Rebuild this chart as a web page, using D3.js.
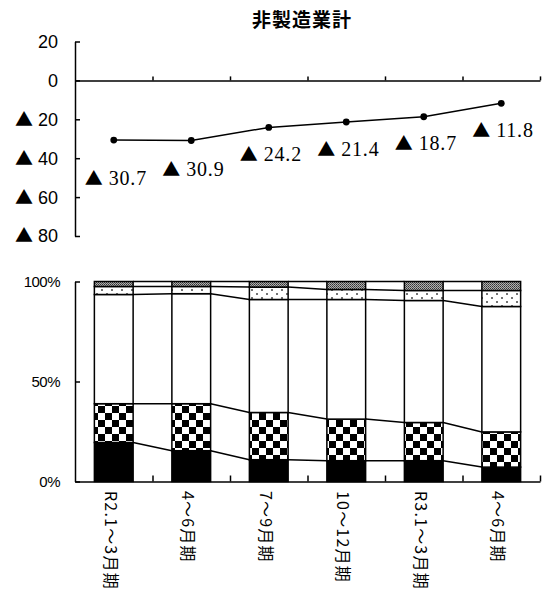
<!DOCTYPE html>
<html><head><meta charset="utf-8">
<script src="https://cdn.jsdelivr.net/npm/d3@7"></script>
<style>
html,body{margin:0;padding:0;background:#fff;}
svg{display:block;}
</style></head>
<body>
<svg id="c" width="545" height="604"></svg>
<script>
// ---- data ----
const title = "非製造業計";
const categories = ["R2.1～3月期","4～6月期","7～9月期","10～12月期","R3.1～3月期","4～6月期"];
const diValues = [-30.7,-30.9,-24.2,-21.4,-18.7,-11.8];
const topTicks = [20,0,-20,-40,-60,-80];
const bottomTicks = [0,50,100];
const seriesKeys = ["black","checker","white","dots","gray"];
const shareBlack   = [19.5,15.4,10.9,10.4,10.4,7.2];
const shareChecker = [19.4,23.5,23.6,20.8,19.1,17.6];
const shareWhite   = [54.6,55.0,56.5,59.8,61.0,62.7];
const shareDots    = [4.0,3.6,6.2,5.0,5.0,8.0];
const shareGray    = [2.5,2.5,2.8,4.0,4.5,4.5];

// ---- layout ----
const svg = d3.select("#c");
const left = 75, right = 540;
const labelDy = [39,30,28,28,28,28];

const rows = categories.map((c,i)=>({i, black:shareBlack[i], checker:shareChecker[i], white:shareWhite[i], dots:shareDots[i], gray:shareGray[i]}));

const x = d3.scaleBand().domain(d3.range(categories.length)).range([left,right]).paddingInner(0.5).paddingOuter(0.25);
const xb = d3.scaleLinear().domain([0,categories.length]).range([left,right]);
const bw = x.bandwidth();
const cx = i => x(i) + bw/2;

// patterns
const defs = svg.append("defs");
const pChk = defs.append("pattern").attr("id","chk").attr("patternUnits","userSpaceOnUse").attr("width",14).attr("height",14);
pChk.append("rect").attr("width",14).attr("height",14).attr("fill","#fff");
pChk.append("rect").attr("width",7).attr("height",7).attr("fill","#000");
pChk.append("rect").attr("x",7).attr("y",7).attr("width",7).attr("height",7).attr("fill","#000");
const pDot = defs.append("pattern").attr("id","dot").attr("patternUnits","userSpaceOnUse").attr("width",10).attr("height",8);
pDot.append("rect").attr("width",10).attr("height",8).attr("fill","#fff");
pDot.append("circle").attr("cx",2).attr("cy",2).attr("r",1).attr("fill","#444");
pDot.append("circle").attr("cx",7).attr("cy",6).attr("r",1).attr("fill","#444");
const pGray = defs.append("pattern").attr("id","gry").attr("patternUnits","userSpaceOnUse").attr("width",2).attr("height",2);
pGray.append("rect").attr("width",2).attr("height",2).attr("fill","#b0b0b0");
pGray.append("rect").attr("width",1).attr("height",1).attr("fill","#333");
pGray.append("rect").attr("x",1).attr("y",1).attr("width",1).attr("height",1).attr("fill","#555");
const fills = {black:"#000", checker:"url(#chk)", white:"#fff", dots:"url(#dot)", gray:"url(#gry)"};

// title
svg.append("text").attr("x",302).attr("y",27).attr("text-anchor","middle")
  .attr("font-family","'Noto Sans CJK JP', sans-serif").attr("font-size",19).attr("font-weight","bold")
  .attr("letter-spacing",1)
  .text(title);

// ---- top chart ----
const yT = d3.scaleLinear().domain([-80,20]).range([236,41.5]);
const gTA = svg.append("g").attr("transform",`translate(${left},0)`)
  .call(d3.axisLeft(yT).tickValues(topTicks).tickSize(-5).tickSizeOuter(0).tickFormat(""));
gTA.selectAll("path,line").attr("stroke","#000").attr("stroke-width",1.5);
const gTX = svg.append("g").attr("transform",`translate(0,${yT(0)})`)
  .call(d3.axisBottom(xb).tickValues(d3.range(1,categories.length+1)).tickSize(-4).tickSizeOuter(0).tickFormat(""));
gTX.selectAll("path,line").attr("stroke","#000").attr("stroke-width",1.5);

// top tick labels
const tl = svg.append("g").selectAll("text").data(topTicks).join("text")
  .attr("x",58).attr("y",d=>yT(d)).attr("dy","0.36em").attr("text-anchor","end")
  .attr("font-family","'Liberation Sans', Arial, sans-serif").attr("font-size",18);
tl.each(function(d){
  const t = d3.select(this);
  if (d < 0) {
    t.append("tspan").attr("font-family","'Noto Sans CJK JP', sans-serif").attr("font-size",18).text("▲");
    t.append("tspan").attr("dx",5).text(String(-d));
  } else {
    t.text(String(d));
  }
});

// line and points
const line = d3.line().x((d,i)=>cx(i)).y(d=>yT(d));
svg.append("path").datum(diValues).attr("d",line).attr("fill","none").attr("stroke","#000").attr("stroke-width",1.5);
svg.append("g").selectAll("circle").data(diValues).join("circle")
  .attr("cx",(d,i)=>cx(i)).attr("cy",d=>yT(d)).attr("r",3.4).attr("fill","#000");

// value labels
const vl = svg.append("g").selectAll("text").data(diValues).join("text")
  .attr("x",(d,i)=>cx(i)-29).attr("y",(d,i)=>yT(d)+labelDy[i]).attr("dy","0.35em");
vl.each(function(d){
  const t = d3.select(this);
  t.append("tspan").attr("font-family","'Noto Sans CJK JP', sans-serif").attr("font-size",18).text(d<0?"▲":"");
  t.append("tspan").attr("dx",6).attr("font-family","'Liberation Serif', serif").attr("font-size",20)
    .attr("letter-spacing",0.8).text(Math.abs(d).toFixed(1));
});

// ---- bottom chart ----
const yB = d3.scaleLinear().domain([0,100]).range([481.5,281.5]);
const stack = d3.stack().keys(seriesKeys)(rows);

const boundaries = stack.map(s => s.map(d=>d[1]));
const gConn = svg.append("g");
boundaries.forEach(b => {
  for (let i=0;i<b.length-1;i++){
    gConn.append("line").attr("x1",x(i)+bw).attr("y1",yB(b[i])).attr("x2",x(i+1)).attr("y2",yB(b[i+1]))
      .attr("stroke","#000").attr("stroke-width",1.5);
  }
});

svg.append("g").selectAll("g").data(stack).join("g")
  .attr("fill",d=>fills[d.key])
  .selectAll("rect").data(d=>d).join("rect")
  .attr("x",d=>x(d.data.i)).attr("width",bw)
  .attr("y",d=>yB(d[1])).attr("height",d=>yB(d[0])-yB(d[1]))
  .attr("stroke","#000").attr("stroke-width",1.5);

const gBA = svg.append("g").attr("transform",`translate(${left},0)`)
  .call(d3.axisLeft(yB).tickValues(bottomTicks).tickSize(-5).tickSizeOuter(0).tickFormat(""));
gBA.selectAll("path,line").attr("stroke","#000").attr("stroke-width",1.5);
const gBX = svg.append("g").attr("transform",`translate(0,${yB(0)})`)
  .call(d3.axisBottom(xb).tickValues(d3.range(1,categories.length+1)).tickSize(-6).tickSizeOuter(0).tickFormat(""));
gBX.selectAll("path,line").attr("stroke","#000").attr("stroke-width",1.5);

svg.append("g").selectAll("text").data(bottomTicks).join("text")
  .attr("x",60).attr("y",d=>yB(d)).attr("dy","0.35em").attr("text-anchor","end")
  .attr("font-family","'Liberation Sans', Arial, sans-serif").attr("font-size",15)
  .attr("letter-spacing",-0.5)
  .text(d=>d+"%");

// x labels (vertical)
svg.append("g").selectAll("text").data(categories).join("text")
  .attr("transform",(d,i)=>`translate(${cx(i)-2},491) rotate(90)`)
  .attr("dominant-baseline","central")
  .attr("font-family","'Noto Sans CJK JP', sans-serif").attr("font-size",16)
  .attr("letter-spacing",1.2)
  .text(d=>d);
</script>
</body></html>
